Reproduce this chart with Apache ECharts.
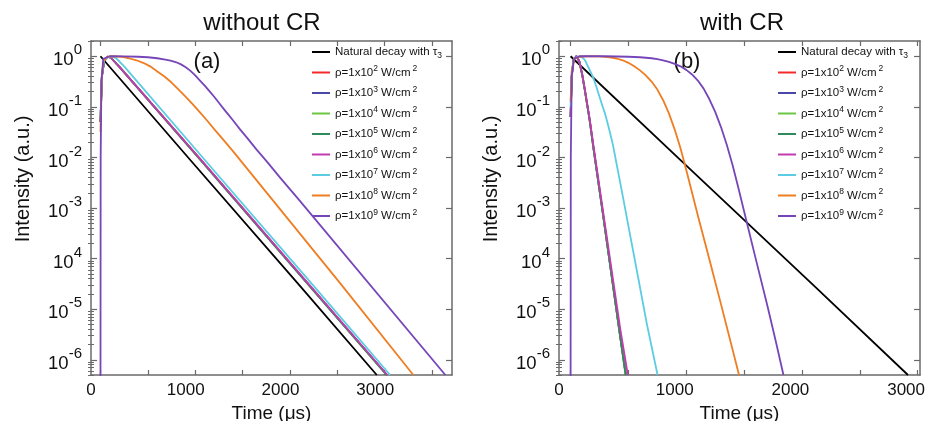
<!DOCTYPE html>
<html><head><meta charset="utf-8">
<script src="https://cdn.jsdelivr.net/npm/echarts@6/dist/echarts.min.js"></script>
<style>html,body{margin:0;padding:0;background:#fff}#c{width:929px;height:421px}</style>
</head><body><div id="c"></div>
<script>
// ---------- labels / categories ----------
const seriesNames = ['Natural decay with τ_3','ρ=1x10^2 W/cm^2','ρ=1x10^3 W/cm^2','ρ=1x10^4 W/cm^2','ρ=1x10^5 W/cm^2','ρ=1x10^6 W/cm^2','ρ=1x10^7 W/cm^2','ρ=1x10^8 W/cm^2','ρ=1x10^9 W/cm^2'];
const seriesColors = ['#000000','#f42a2a','#4b47a8','#6cc644','#2f8a5c','#c23bb0','#5ccce2','#ef7d22','#7646b8'];
const panelTitles = ['without CR','with CR'];
const panelTags = ['(a)','(b)'];
const xAxisTitle = 'Time (μs)';
const yAxisTitle = 'Intensity (a.u.)';
const xTickLabels = [0,1000,2000,3000];
const xTickMarks = [100,600,1100,1600,2100,2600,3100,3600];
const yTickValues = [1,1e-1,1e-2,1e-3,1e-4,1e-5,1e-6];
const yTickExps = ['0','-1','-2','-3','4','-5','-6'];

// ---------- panel (a) without CR : [time µs, intensity] ----------
const aNatural = [[100,1],[1048,8.9e-3],[2212,2.8e-5],[3016,5e-7]];
const aRho2 = [[100,0.05],[115,0.4],[140,0.83],[175,0.977],[210,0.933],[300,0.617],[1135,0.0100],[2317,2.8e-5],[3124,5e-7]];
const aRho3 = [[100,0.05],[115,0.4],[140,0.83],[175,0.977],[210,0.933],[300,0.617],[1135,0.0100],[2317,2.8e-5],[3124,5e-7]];
const aRho4 = [[100,0.05],[115,0.4],[140,0.83],[175,0.977],[210,0.933],[300,0.617],[1132,0.0100],[2312,2.8e-5],[3120,5e-7]];
const aRho5 = [[100,0.05],[115,0.4],[140,0.83],[175,0.977],[210,0.933],[300,0.617],[1132,0.0100],[2312,2.8e-5],[3120,5e-7]];
const aRho6 = [[100,0.05],[115,0.4],[140,0.83],[175,0.977],[210,0.933],[300,0.617],[1138,0.0100],[2320,2.8e-5],[3128,5e-7]];
const aRho7 = [[100,0.063],[115,0.45],[140,0.87],[200,0.989],[260,0.933],[350,0.631],[1206,0.0087],[2370,2.6e-5],[3157,5e-7]];
const aRho8 = [[100,0.0316],[110,0.316],[130,0.794],[170,0.977],[240,1.0],[320,0.977],[400,0.912],[480,0.832],[550,0.741],[625,0.631],[700,0.501],[775,0.398],[850,0.302],[925,0.219],[1000,0.158],[1075,0.112],[1150,0.0776],[1225,0.0537],[1300,0.0363],[1400,0.0219],[1500,0.0132],[2635,3.16e-5],[3402,5e-7]];
const aRho9 = [[100,1e-7],[102,0.01],[110,0.316],[130,0.891],[200,1.0],[350,0.995],[500,0.977],[600,0.955],[700,0.912],[800,0.851],[850,0.81],[900,0.759],[950,0.69],[1000,0.603],[1050,0.513],[1100,0.417],[1150,0.331],[1200,0.263],[1250,0.204],[1300,0.158],[1350,0.120],[1400,0.0912],[1450,0.0700],[1500,0.0537],[1575,0.0355],[1650,0.0240],[1750,0.0141],[1850,0.00851],[2000,0.00390],[2200,0.00141],[3740,5e-7]];

// ---------- panel (b) with CR ----------
const bNatural = [[100,1],[1048,8.9e-3],[2212,2.8e-5],[3016,5e-7]];
const bRho2 = [[100,0.0631],[110,0.398],[125,0.832],[150,1.0],[175,0.794],[200,0.437],[221,0.229],[264,0.0562],[300,0.0141],[380,7.59e-4],[460,3.80e-5],[520,3.98e-6],[578,5e-7]];
const bRho3 = [[100,0.0631],[110,0.398],[125,0.832],[150,1.0],[175,0.794],[200,0.437],[221,0.229],[264,0.0562],[300,0.0141],[380,7.59e-4],[460,3.80e-5],[520,3.98e-6],[578,5e-7]];
const bRho4 = [[100,0.0631],[110,0.398],[125,0.832],[150,1.0],[175,0.794],[200,0.437],[221,0.229],[264,0.0562],[300,0.0141],[380,7.59e-4],[460,3.80e-5],[520,3.98e-6],[576,5e-7]];
const bRho5 = [[100,0.0631],[110,0.398],[125,0.832],[150,1.0],[175,0.794],[200,0.437],[221,0.229],[264,0.0562],[300,0.0141],[380,7.59e-4],[460,3.80e-5],[520,3.98e-6],[576,5e-7]];
const bRho6 = [[100,0.0631],[110,0.398],[125,0.832],[150,1.0],[175,0.794],[200,0.447],[221,0.240],[264,0.0603],[300,0.0158],[380,8.91e-4],[466,3.98e-5],[530,3.98e-6],[595,5e-7]];
const bRho7 = [[100,0.1],[110,0.501],[130,0.891],[170,1.0],[190,0.977],[210,0.912],[230,0.794],[250,0.631],[275,0.479],[300,0.355],[325,0.240],[350,0.158],[375,0.105],[400,0.0708],[433,0.0363],[466,0.0178],[508,0.00562],[550,0.00178],[620,2.51e-4],[682,4.47e-5],[760,5.01e-6],[852,5e-7]];
const bRho8 = [[100,0.126],[110,0.501],[130,0.871],[170,0.977],[250,1.0],[350,0.989],[437,0.955],[500,0.902],[550,0.832],[600,0.741],[650,0.631],[700,0.525],[750,0.417],[800,0.316],[850,0.219],[900,0.135],[950,0.0741],[1000,0.0355],[1050,0.0151],[1100,0.00562],[1150,0.00200],[1200,7.08e-4],[1300,9.55e-5],[1400,1.26e-5],[1556,5e-7]];
const bRho9 = [[100,1e-7],[102,0.01],[110,0.398],[130,0.891],[180,1.0],[400,1.0],[600,0.977],[700,0.955],[800,0.912],[850,0.875],[900,0.832],[950,0.776],[1000,0.708],[1050,0.631],[1100,0.537],[1150,0.437],[1200,0.331],[1250,0.229],[1300,0.141],[1350,0.0794],[1400,0.0398],[1450,0.0178],[1500,0.00708],[1550,0.00251],[1600,8.51e-4],[1700,1e-4],[1800,1.20e-5],[1870,2.51e-6],[1940,5e-7]];

const panelData = [
  [aNatural,aRho2,aRho3,aRho4,aRho5,aRho6,aRho7,aRho8,aRho9],
  [bNatural,bRho2,bRho3,bRho4,bRho5,bRho6,bRho7,bRho8,bRho9]
];

// ---------- layout / style ----------
const FONT = "'Liberation Sans', Arial, Helvetica, sans-serif";
const FRAME = '#6a6a6a';
const TXT = '#111';
const grids = [
  {left:91, top:41, width:361, height:334},
  {left:559, top:41, width:361, height:334}
];
const xMax = [3810, 3120];
const yMin = 5e-7, yMax = 2;
const legendLeft = [312, 778];
const titleX = [262, 742];
const tagX = [207, 687];
const yTitleX = [23, 491];

// minor log ticks (2..9 x 10^k) within the axis range
const yMinorTicks = [];
for (let k = -7; k <= 0; k++) for (let m = 2; m <= 9; m++) {
  const v = m * Math.pow(10, k);
  if (v >= yMin && v <= yMax) yMinorTicks.push(v);
}

function yLabel(v) {
  const e = Math.log10(v);
  const idx = yTickValues.findIndex(t => Math.abs(Math.log10(t) - e) < 1e-6);
  if (idx < 0) return '';
  return '{b|10}{s|' + yTickExps[idx] + '}';
}
function richName(n) {
  return n.replace(/cm\^(\d)/g, 'cm{supg|$1}').replace(/\^(-?\d)/g, '{sup|$1}').replace(/_(\d)/g, '{sub|$1}');
}

const lineStyleFrame = {color: FRAME, width: 1.5};
const xAxes = [], yAxes = [], series = [], legends = [], graphics = [];

for (let p = 0; p < 2; p++) {
  xAxes.push({
    gridIndex:p, type:'value', min:0, max:xMax[p], position:'bottom',
    axisLine:{show:true, onZero:false, lineStyle:lineStyleFrame},
    axisTick:{show:true, inside:true, length:5, customValues:xTickMarks, lineStyle:{color:FRAME, width:1.2}},
    axisLabel:{show:true, customValues:xTickLabels, margin:7, fontSize:17, color:TXT, fontFamily:FONT, formatter:v => String(v)},
    splitLine:{show:false},
    name:xAxisTitle, nameLocation:'middle', nameGap:26,
    nameTextStyle:{fontSize:19, color:TXT, fontFamily:FONT}
  });
  xAxes.push({
    gridIndex:p, type:'value', min:0, max:xMax[p], position:'top',
    axisLine:{show:true, onZero:false, lineStyle:lineStyleFrame},
    axisTick:{show:true, inside:true, length:5, customValues:xTickMarks, lineStyle:{color:FRAME, width:1.2}},
    axisLabel:{show:false}, splitLine:{show:false}
  });
  yAxes.push({
    gridIndex:p, type:'log', logBase:10, min:yMin, max:yMax, position:'left',
    axisLine:{show:true, onZero:false, lineStyle:lineStyleFrame},
    axisTick:{show:true, inside:true, length:6, customValues:yTickValues, lineStyle:{color:FRAME, width:1.2}},
    axisLabel:{show:true, customValues:yTickValues, margin:9, formatter:yLabel,
      rich:{
        b:{fontSize:18.5, lineHeight:27, verticalAlign:'bottom', color:TXT, fontFamily:FONT},
        s:{fontSize:15, lineHeight:15, verticalAlign:'top', color:TXT, fontFamily:FONT}
      }},
    splitLine:{show:false}
  });
  yAxes.push({
    gridIndex:p, type:'log', logBase:10, min:yMin, max:yMax, position:'right',
    axisLine:{show:true, onZero:false, lineStyle:lineStyleFrame},
    axisTick:{show:true, inside:true, length:6, customValues:yTickValues, lineStyle:{color:FRAME, width:1.2}},
    axisLabel:{show:false}, splitLine:{show:false}
  });
  yAxes.push({
    gridIndex:p, type:'log', logBase:10, min:yMin, max:yMax, position:'left',
    axisLine:{show:false},
    axisTick:{show:true, inside:true, length:3, customValues:yMinorTicks, lineStyle:{color:FRAME, width:1}},
    axisLabel:{show:false}, splitLine:{show:false}
  });
  yAxes.push({
    gridIndex:p, type:'log', logBase:10, min:yMin, max:yMax, position:'right',
    axisLine:{show:false},
    axisTick:{show:true, inside:true, length:3, customValues:yMinorTicks, lineStyle:{color:FRAME, width:1}},
    axisLabel:{show:false}, splitLine:{show:false}
  });

  panelData[p].forEach((d, i) => {
    series.push({
      type:'line', name:seriesNames[i], xAxisIndex:2*p, yAxisIndex:4*p,
      data:d, showSymbol:false, symbol:'none', color:seriesColors[i],
      lineStyle:{width:1.8, color:seriesColors[i], join:'round'}, clip:true, z:2+i
    });
  });

  legends.push({
    data:seriesNames, orient:'vertical', left:legendLeft[p], top:44, padding:0,
    itemWidth:18, itemHeight:2, itemGap:4.5, icon:'rect', selectedMode:false,
    formatter:richName,
    textStyle:{fontSize:11.5, color:TXT, fontFamily:FONT, lineHeight:16,
      rich:{
        sup:{fontSize:8.5, lineHeight:8, verticalAlign:'top', color:TXT, fontFamily:FONT},
        supg:{fontSize:8.5, lineHeight:8, verticalAlign:'top', color:TXT, fontFamily:FONT, padding:[0,0,0,2]},
        sub:{fontSize:8.5, lineHeight:8, verticalAlign:'bottom', color:TXT, fontFamily:FONT}
      }}
  });

  graphics.push({type:'text', x:titleX[p], y:23, style:{text:panelTitles[p], fontSize:24, fontFamily:FONT, fill:TXT, align:'center', verticalAlign:'middle'}});
  graphics.push({type:'text', x:tagX[p], y:62, style:{text:panelTags[p], fontSize:22, fontFamily:FONT, fill:TXT, align:'center', verticalAlign:'middle'}});
  graphics.push({type:'text', x:yTitleX[p], y:179, rotation:Math.PI/2, style:{text:yAxisTitle, fontSize:20, fontFamily:FONT, fill:TXT, align:'center', verticalAlign:'middle'}});
}

const chart = echarts.init(document.getElementById('c'), null, {renderer:'canvas'});
chart.setOption({
  animation:false,
  backgroundColor:'#ffffff',
  grid:grids.map(g => Object.assign({containLabel:false, outerBoundsMode:'none'}, g)),
  xAxis:xAxes, yAxis:yAxes, series:series, legend:legends, graphic:graphics
});
</script>
</body></html>
